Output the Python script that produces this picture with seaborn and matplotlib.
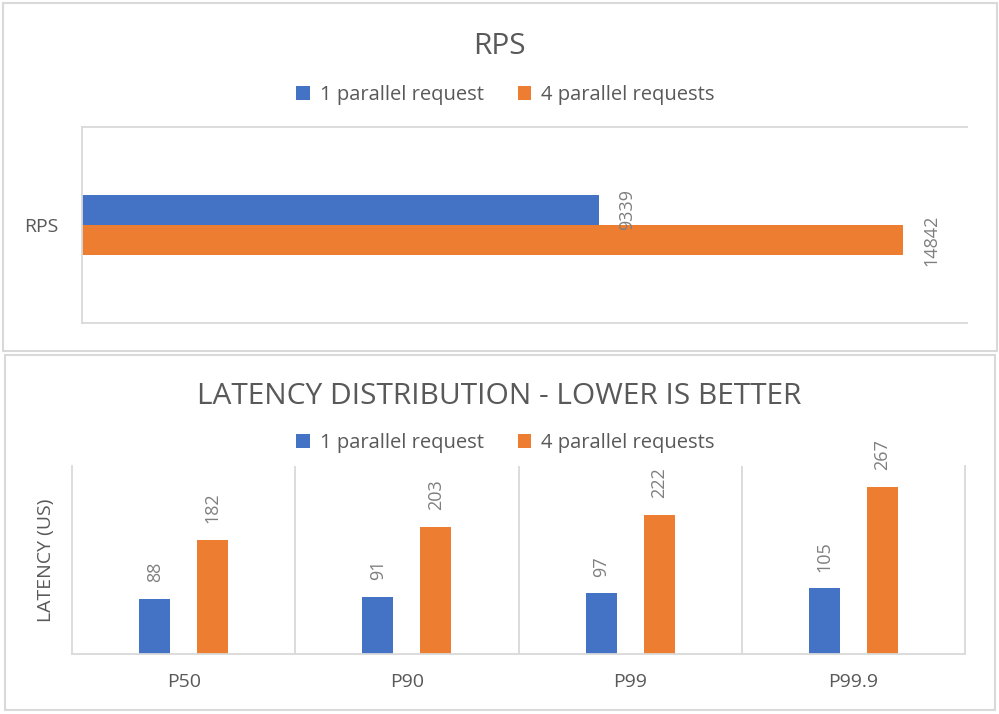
import matplotlib.pyplot as plt
import pandas as pd
import seaborn as sns
from matplotlib.patches import Rectangle, Patch

series = ["1 parallel request", "4 parallel requests"]
rps_category = ["RPS"]
rps_values = [9339, 14842]
latency_categories = ["P50", "P90", "P99", "P99.9"]
latency_1 = [88, 91, 97, 105]
latency_4 = [182, 203, 222, 267]

colors = ["#4472C4", "#ED7D31"]
text_gray = "#595959"
label_gray = "#7F7F7F"
line_gray = "#D9D9D9"

sns.set_theme(style="white")
plt.rcParams["font.family"] = ["Open Sans", "DejaVu Sans"]

df_rps = pd.DataFrame({"metric": rps_category * len(series), "series": series, "value": rps_values})
df_lat = pd.DataFrame({
    "pct": latency_categories * 2,
    "series": [series[0]] * len(latency_1) + [series[1]] * len(latency_4),
    "value": latency_1 + latency_4,
})

fig = plt.figure(figsize=(9.99, 7.14), dpi=100)

# chart frames
fig.patches.append(Rectangle((0.003, 0.508), 0.995, 0.488, transform=fig.transFigure,
                             fill=False, ec=line_gray, lw=1.5))
fig.patches.append(Rectangle((0.005, 0.006), 0.991, 0.497, transform=fig.transFigure,
                             fill=False, ec=line_gray, lw=1.5))

# --- RPS panel
ax1 = fig.add_axes([0.0821, 0.5476, 0.886, 0.2745])
sns.barplot(data=df_rps, x="value", y="metric", hue="series", palette=colors, orient="h",
            width=0.31, saturation=1, linewidth=0, legend=False, ax=ax1)
ax1.set_xlim(0, 16000)
ax1.set_ylim(0.5, -0.5)
ax1.set_xticks([])
ax1.set_xlabel("")
ax1.set_ylabel("")
ax1.spines["right"].set_visible(False)
for s in ["top", "bottom", "left"]:
    ax1.spines[s].set_color(line_gray)
    ax1.spines[s].set_linewidth(1.3)
ax1.tick_params(axis="y", length=0, pad=17, labelsize=14, labelcolor=text_gray)
for c in ax1.containers:
    ax1.bar_label(c, padding=14, rotation=90, fontsize=13, color=label_gray)

# --- latency panel
ax2 = fig.add_axes([0.0721, 0.084, 0.894, 0.2633])
sns.barplot(data=df_lat, x="pct", y="value", hue="series", palette=colors,
            width=0.52, gap=0.465, saturation=1, linewidth=0, legend=False, ax=ax2)
ax2.set_xlim(-0.5, len(latency_categories) - 0.5)
ax2.set_ylim(0, 300)
ax2.set_yticks([])
ax2.set_xlabel("")
ax2.set_ylabel("LATENCY (US)", fontsize=14, color=text_gray, labelpad=12)
ax2.spines["top"].set_visible(False)
for s in ["bottom", "left", "right"]:
    ax2.spines[s].set_color(line_gray)
    ax2.spines[s].set_linewidth(1.3)
for i in range(1, len(latency_categories)):
    ax2.axvline(i - 0.5, color=line_gray, lw=1.3)
ax2.tick_params(axis="x", length=0, pad=14, labelsize=14, labelcolor=text_gray)
for c in ax2.containers:
    ax2.bar_label(c, padding=12, rotation=90, fontsize=13, color=label_gray)

# titles and legends
fig.text(0.5, 1 - 47 / 714, "RPS", ha="center", va="center", fontsize=21.5, color=text_gray)
fig.text(0.5, 1 - 396 / 714, "LATENCY DISTRIBUTION - LOWER IS BETTER", ha="center", va="center",
         fontsize=21.5, color=text_gray)

handles = [Patch(facecolor=col, edgecolor="none") for col in colors]
for y in [1 - 95 / 714, 1 - 443 / 714]:
    fig.legend(handles=handles, labels=series, loc="center", bbox_to_anchor=(0.506, y), ncol=2,
               frameon=False, fontsize=14.5, labelcolor=text_gray, handlelength=0.65,
               handleheight=0.65, handletextpad=0.5, columnspacing=1.7)

fig.savefig("out.png", dpi=100)
